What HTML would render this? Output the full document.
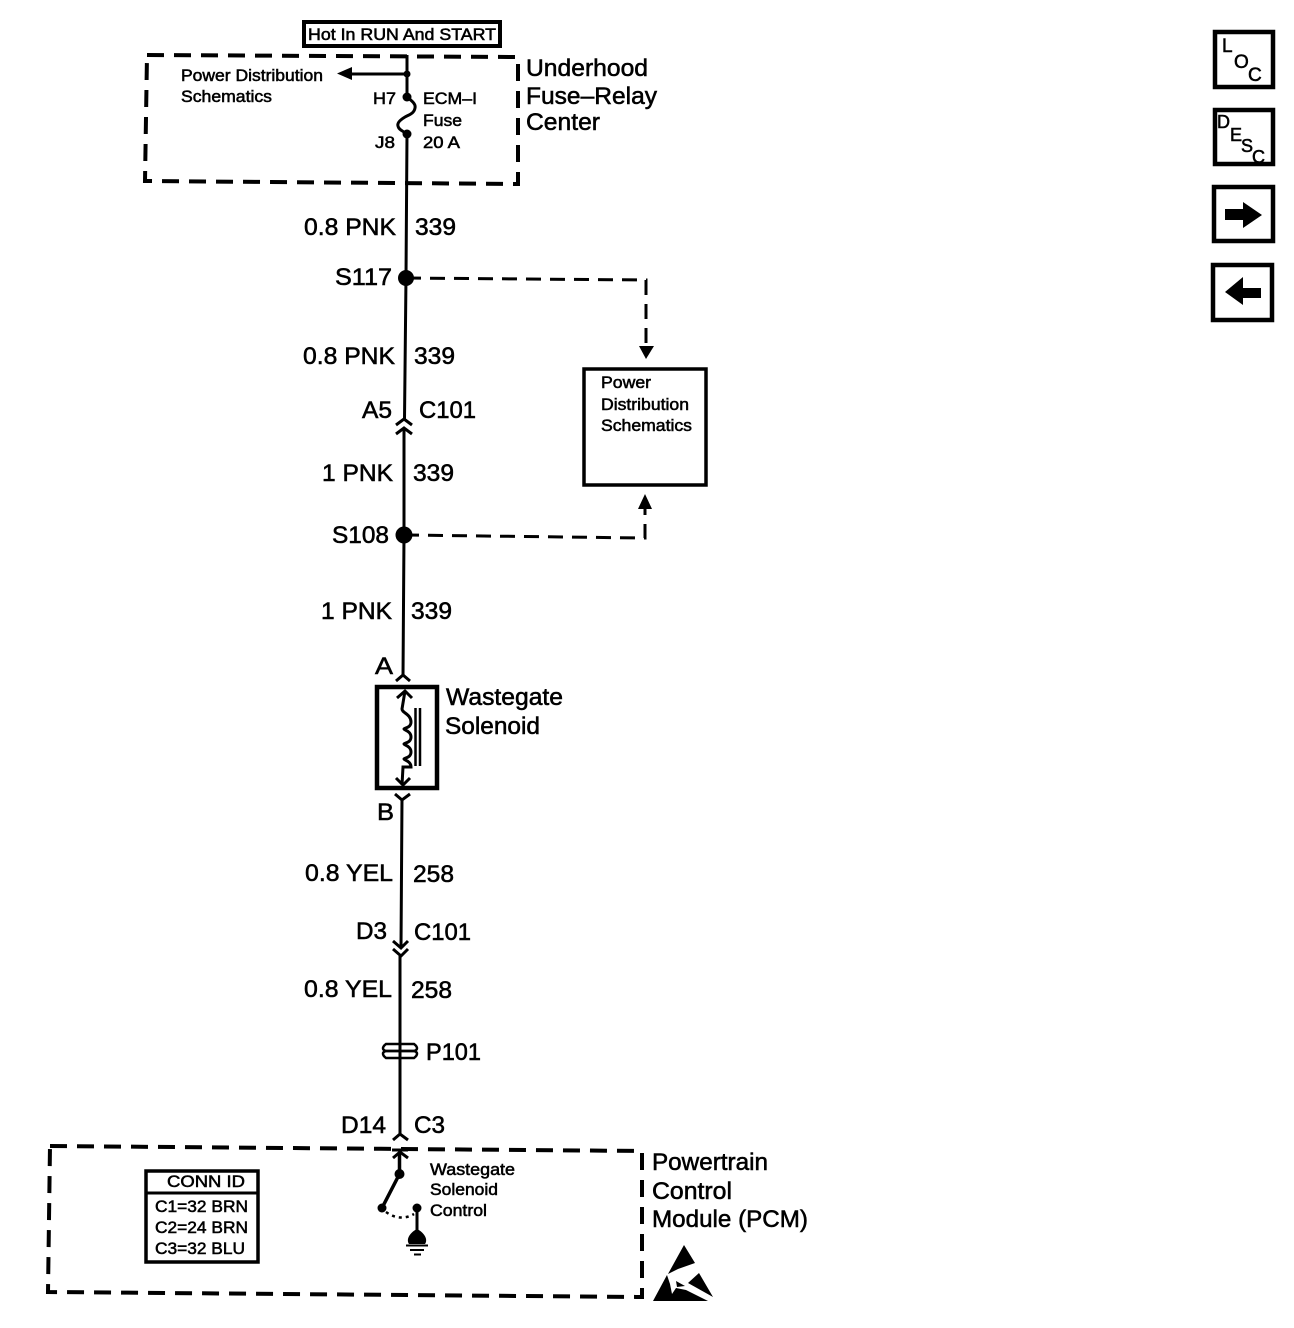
<!DOCTYPE html>
<html><head><meta charset="utf-8"><style>
html,body{margin:0;padding:0;background:#fff}
svg{display:block}
text{font-family:"Liberation Sans",sans-serif;fill:#000;stroke:#000;stroke-width:.55px}
.l{font-size:24px}.m{font-size:17px}
</style></head><body>
<svg width="1294" height="1328" viewBox="0 0 1294 1328" xmlns="http://www.w3.org/2000/svg">
<g fill="none" stroke="#000" stroke-width="3">
<!-- main wire -->
<path d="M407 55L407 97M407 134L406 277L404.500 419M404 428L404 535L403 677M402 798L401 948M400 956L400 1134"/>
<!-- top label -->
<rect x="304" y="22" width="196" height="24" stroke-width="4"/>
<!-- dashed boxes -->
<path d="M147 55L518 57L518 184L145 181Z" stroke-width="4" stroke-dasharray="17 10"/>
<path d="M50 1146L642 1151L642 1297L48 1292Z" stroke-width="4" stroke-dasharray="17 10"/>
<!-- feed to PDS -->
<path d="M350 74L407 74"/>
<!-- fuse -->
<path d="M407 97C412 101 416 104 415 108C414 114 408 115 405 117C400 120 397 123 398 126C399 131 405 131 407 135" stroke-width="3"/>
<!-- dashed branches -->
<path d="M406 278L646 280L646 345" stroke-width="3" stroke-dasharray="15 9"/>
<path d="M404 535L645 538L645 508" stroke-width="3" stroke-dasharray="15 9"/>
<rect x="584" y="369" width="122" height="116" stroke-width="3.500"/>
<!-- C101 upper -->
<path d="M396 425L404 419L412 425M396 434L404 428L412 434" stroke-width="3"/>
<!-- A connector -->
<path d="M396 681L403 675L410 681" stroke-width="3"/>
<!-- solenoid -->
<rect x="377" y="687" width="60" height="101" stroke-width="4.500"/>
<path d="M405 691L402 709C402 713 411 714 411 722C411 728 404 728 404 729C404 730 411 731 411 737C411 743 404 743 404 744C404 745 411 746 411 752C411 758 404 758 404 759C404 760 411 761 411 767L403 767L402 785" stroke-width="3"/>
<path d="M397 698L405 691L412 698M396 778L403 785L410 778" stroke-width="3"/>
<path d="M415.500 708V766M420 708V766" stroke-width="2.500"/>
<!-- B connector -->
<path d="M395 794L402 800L410 794" stroke-width="3"/>
<!-- C101 lower -->
<path d="M393 941L401 948L408 941M393 949L401 956L408 949" stroke-width="3"/>
<!-- P101 -->
<path d="M386 1044H414C418 1047 418 1050 414 1051H386C382 1050 382 1047 386 1044Z" stroke-width="2.500"/>
<path d="M386 1051H414C418 1052 418 1055 414 1058H386C382 1055 382 1052 386 1051Z" stroke-width="2.500"/>
<!-- D14 -->
<path d="M393 1140L400 1134L408 1140" stroke-width="3"/>
<!-- PCM switch -->
<path d="M392 1150H408M393 1158L400 1152L408 1158" stroke-width="3"/>
<path d="M399.500 1152V1174L382 1208" stroke-width="3.500"/>
<path d="M386 1212Q400 1222 414 1214" stroke-width="2.500" stroke-dasharray="3 4"/>
<path d="M417 1208V1236" stroke-width="3"/>
<path d="M406 1245.500H428M410 1250H424M414 1254.500H421" stroke-width="2"/>
<!-- conn id -->
<rect x="146" y="1171" width="112" height="91" stroke-width="3.500"/>
<path d="M146 1193H258" stroke-width="3"/>
<!-- side buttons -->
<rect x="1215" y="32" width="58" height="55" stroke-width="4.500"/>
<rect x="1215" y="110" width="58" height="54" stroke-width="4.500"/>
<rect x="1214" y="187" width="59" height="54" stroke-width="4.500"/>
<rect x="1213" y="265" width="59" height="55" stroke-width="4.500"/>
</g>
<g fill="#000">
<path d="M337 73.500L352 67V80Z"/>
<circle cx="407" cy="74" r="3.500"/><circle cx="407" cy="97" r="4.500"/><circle cx="407" cy="134" r="4.500"/>
<circle cx="406" cy="278" r="8"/><circle cx="404" cy="535" r="8.500"/>
<path d="M639 346H654L646 359Z"/><path d="M638 509L645 494L652 509Z"/>
<circle cx="399.500" cy="1174" r="5"/><circle cx="382" cy="1208" r="4.500"/><circle cx="417" cy="1208" r="4.500"/>
<path d="M417 1229C425 1233 428 1240 425 1244H409C406 1240 409 1233 417 1229Z"/>
<!-- ESD symbol -->
<path d="M684 1245L695 1263L678 1269L668 1274Z"/>
<path d="M667 1275L653 1301H708L686 1290L676 1288L672 1294L670 1284Z"/>
<path d="M676 1281L685 1286L677 1287Z"/>
<path d="M699 1273L713 1297L688 1283Z"/>
<path d="M1225 209H1243V202L1262 215L1243 228V220H1225Z"/>
<path d="M1261 288H1243V277L1225 292L1243 305V298H1261Z"/>
</g>
<text x="308" y="40" font-size="16.500" textLength="188" lengthAdjust="spacingAndGlyphs">Hot In RUN And START</text>
<text class="l" x="526" y="76" textLength="122" lengthAdjust="spacingAndGlyphs">Underhood</text>
<text class="l" x="526" y="104" textLength="131" lengthAdjust="spacingAndGlyphs">Fuse–Relay</text>
<text class="l" x="526" y="130" textLength="74" lengthAdjust="spacingAndGlyphs">Center</text>
<text class="m" x="181" y="81" textLength="142" lengthAdjust="spacingAndGlyphs">Power Distribution</text>
<text class="m" x="181" y="102" textLength="91" lengthAdjust="spacingAndGlyphs">Schematics</text>
<text class="m" x="373" y="104" textLength="23" lengthAdjust="spacingAndGlyphs">H7</text>
<text class="m" x="423" y="104" textLength="54" lengthAdjust="spacingAndGlyphs">ECM–I</text>
<text class="m" x="423" y="126" textLength="39" lengthAdjust="spacingAndGlyphs">Fuse</text>
<text class="m" x="375" y="148" textLength="20" lengthAdjust="spacingAndGlyphs">J8</text>
<text class="m" x="423" y="148" textLength="37" lengthAdjust="spacingAndGlyphs">20 A</text>
<text class="l" x="304" y="235" textLength="92" lengthAdjust="spacingAndGlyphs">0.8 PNK</text>
<text class="l" x="415" y="235" textLength="41" lengthAdjust="spacingAndGlyphs">339</text>
<text class="l" x="335" y="285" textLength="57" lengthAdjust="spacingAndGlyphs">S117</text>
<text class="l" x="303" y="364" textLength="92" lengthAdjust="spacingAndGlyphs">0.8 PNK</text>
<text class="l" x="414" y="364" textLength="41" lengthAdjust="spacingAndGlyphs">339</text>
<text class="l" x="362" y="418" textLength="30" lengthAdjust="spacingAndGlyphs">A5</text>
<text class="l" x="419" y="418" textLength="57" lengthAdjust="spacingAndGlyphs">C101</text>
<text class="l" x="322" y="481" textLength="71" lengthAdjust="spacingAndGlyphs">1 PNK</text>
<text class="l" x="413" y="481" textLength="41" lengthAdjust="spacingAndGlyphs">339</text>
<text class="l" x="332" y="543" textLength="57" lengthAdjust="spacingAndGlyphs">S108</text>
<text class="l" x="321" y="619" textLength="71" lengthAdjust="spacingAndGlyphs">1 PNK</text>
<text class="l" x="411" y="619" textLength="41" lengthAdjust="spacingAndGlyphs">339</text>
<text class="l" x="375" y="674" textLength="18" lengthAdjust="spacingAndGlyphs">A</text>
<text class="l" x="446" y="705" textLength="117" lengthAdjust="spacingAndGlyphs">Wastegate</text>
<text class="l" x="445" y="734" textLength="95" lengthAdjust="spacingAndGlyphs">Solenoid</text>
<text class="l" x="377" y="820" textLength="17" lengthAdjust="spacingAndGlyphs">B</text>
<text class="l" x="305" y="881" textLength="88" lengthAdjust="spacingAndGlyphs">0.8 YEL</text>
<text class="l" x="413" y="882" textLength="41" lengthAdjust="spacingAndGlyphs">258</text>
<text class="l" x="356" y="939" textLength="31" lengthAdjust="spacingAndGlyphs">D3</text>
<text class="l" x="414" y="940" textLength="57" lengthAdjust="spacingAndGlyphs">C101</text>
<text class="l" x="304" y="997" textLength="88" lengthAdjust="spacingAndGlyphs">0.8 YEL</text>
<text class="l" x="411" y="998" textLength="41" lengthAdjust="spacingAndGlyphs">258</text>
<text class="l" x="426" y="1060" textLength="55" lengthAdjust="spacingAndGlyphs">P101</text>
<text class="l" x="341" y="1133" textLength="45" lengthAdjust="spacingAndGlyphs">D14</text>
<text class="l" x="414" y="1133" textLength="31" lengthAdjust="spacingAndGlyphs">C3</text>
<text class="m" x="430" y="1175" textLength="85" lengthAdjust="spacingAndGlyphs">Wastegate</text>
<text class="m" x="430" y="1195" textLength="68" lengthAdjust="spacingAndGlyphs">Solenoid</text>
<text class="m" x="430" y="1216" textLength="57" lengthAdjust="spacingAndGlyphs">Control</text>
<text class="m" x="601" y="388" textLength="50" lengthAdjust="spacingAndGlyphs">Power</text>
<text class="m" x="601" y="410" textLength="88" lengthAdjust="spacingAndGlyphs">Distribution</text>
<text class="m" x="601" y="431" textLength="91" lengthAdjust="spacingAndGlyphs">Schematics</text>
<text class="m" x="167" y="1187" textLength="78" lengthAdjust="spacingAndGlyphs">CONN ID</text>
<text class="m" x="155" y="1212" textLength="93" lengthAdjust="spacingAndGlyphs">C1=32 BRN</text>
<text class="m" x="155" y="1233" textLength="93" lengthAdjust="spacingAndGlyphs">C2=24 BRN</text>
<text class="m" x="155" y="1254" textLength="90" lengthAdjust="spacingAndGlyphs">C3=32 BLU</text>
<text class="l" x="652" y="1170" textLength="116" lengthAdjust="spacingAndGlyphs">Powertrain</text>
<text class="l" x="652" y="1199" textLength="80" lengthAdjust="spacingAndGlyphs">Control</text>
<text class="l" x="652" y="1227" textLength="156" lengthAdjust="spacingAndGlyphs">Module (PCM)</text>
<text x="1222" y="52" font-size="19">L</text><text x="1234" y="68" font-size="19">O</text><text x="1248" y="81" font-size="19">C</text>
<text x="1217" y="128" font-size="18">D</text><text x="1230" y="141" font-size="18">E</text><text x="1241" y="152" font-size="18">S</text><text x="1252" y="163" font-size="18">C</text>
</svg>
</body></html>
